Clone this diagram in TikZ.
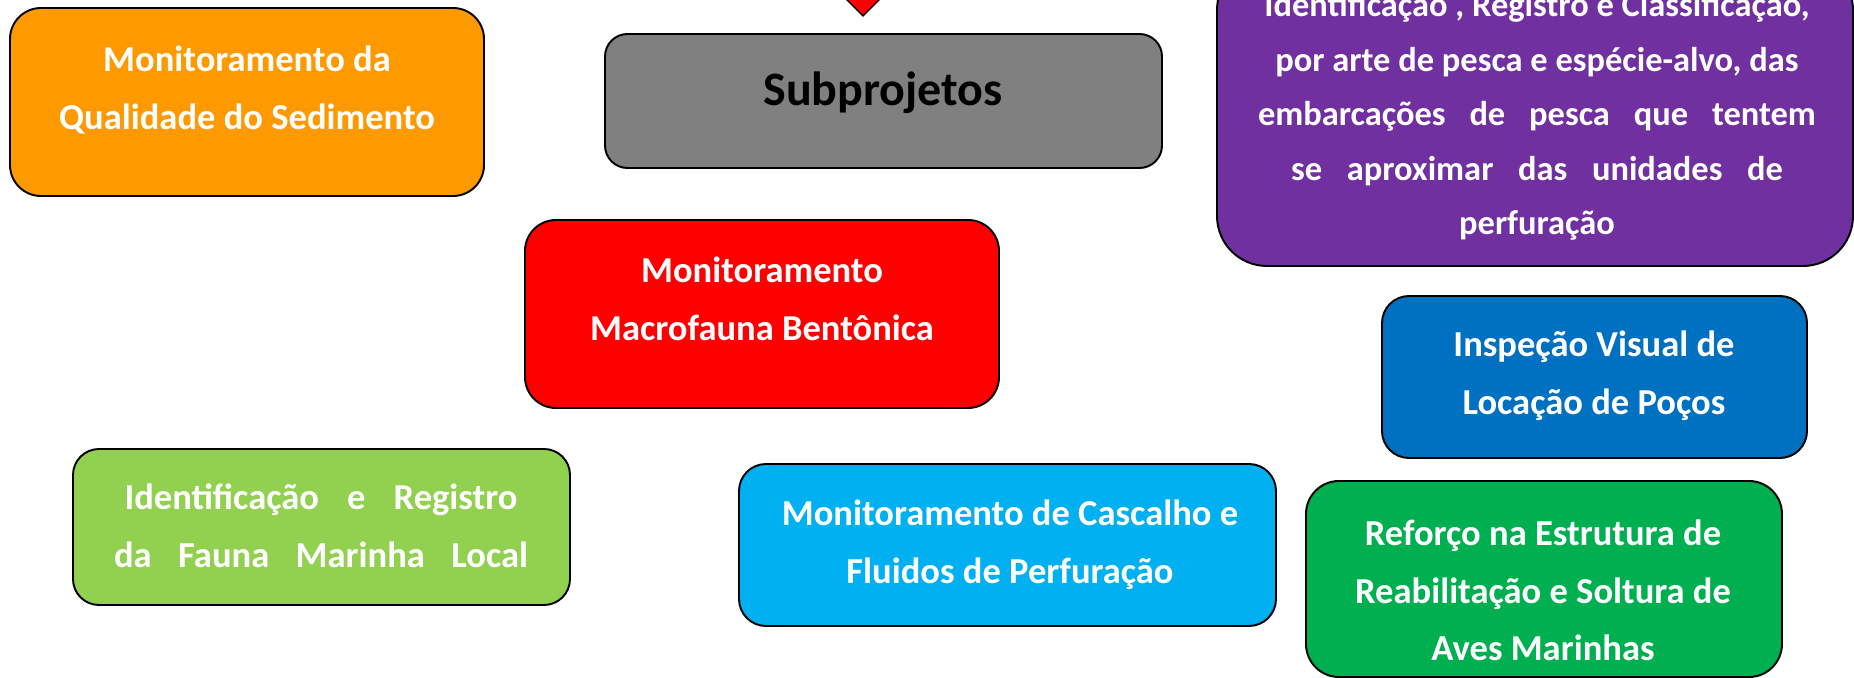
\documentclass[tikz,border=0pt]{standalone}
\usepackage{fontspec}
\setmainfont{Carlito}
\usepackage{tikz}
\usetikzlibrary{fit}
\definecolor{laranja}{HTML}{FF9900}
\definecolor{cinza}{HTML}{808080}
\definecolor{vermelho}{HTML}{FF0000}
\definecolor{roxo}{HTML}{7030A0}
\definecolor{azul}{HTML}{0070C0}
\definecolor{verdeclaro}{HTML}{92D050}
\definecolor{ciano}{HTML}{00B0F0}
\definecolor{verde}{HTML}{00B050}
\setlength{\tabcolsep}{0pt}
\newcommand{\esticar}[2]{\makebox[#1][s]{#2}}
\tikzset{
  caixa/.style={draw=black,line width=1.1pt,rounded corners=#1,inner sep=0pt},
  texto/.style={text=white,inner sep=0pt,anchor=base,
    font=\bfseries\fontsize{20.8}{32.7}\selectfont},
  textomenor/.style={texto,font=\bfseries\fontsize{19.6}{31}\selectfont}
}

\begin{document}
\begin{tikzpicture}[x=0.02cm,y=-0.02cm]
\clip(0,0)rectangle(1854,678);
% caixas
\node[caixa=0.62cm,fill=laranja,fit={(10,8)(484,196)}](sedimento){};
\node[caixa=0.45cm,fill=cinza,fit={(605,34)(1162,168)}](subprojetos){};
\node[caixa=1cm,fill=roxo,fit={(1217,-40)(1853,266)}](embarcacoes){};
\node[caixa=0.62cm,fill=vermelho,fit={(525,220)(999,408)}](macrofauna){};
\node[caixa=0.54cm,fill=azul,fit={(1382,296)(1807,458)}](inspecao){};
\node[caixa=0.52cm,fill=verdeclaro,fit={(73,449)(570,605)}](fauna){};
\node[caixa=0.54cm,fill=ciano,fit={(739,464)(1276,626)}](cascalho){};
\node[caixa=0.66cm,fill=verde,fit={(1306,481)(1782,677)}](aves){};
% ponta da seta
\coordinate(ponta)at(863,16);
\draw[fill=red,line width=0.8pt,line join=miter](836,-11)--(890,-11)--(ponta)--cycle;
% textos
\node[texto](sedimentotxt)at(247,72){\begin{tabular}[t]{c}Monitoramento da\\Qualidade do Sedimento\end{tabular}};
\node[texto,text=black,font=\bfseries\fontsize{27.3}{32}\selectfont](subprojetostxt)at(883,106){Subprojetos};
\node[textomenor](embarcacoestxt)at(1537,17){\begin{tabular}[t]{c}Identificação , Registro e Classificação,\\
por arte de pesca e espécie-alvo, das\\
\esticar{11.16cm}{embarcações de pesca que tentem}\\
\esticar{9.84cm}{se aproximar das unidades de}\\
perfuração\end{tabular}};
\node[texto](macrofaunatxt)at(762,283){\begin{tabular}[t]{c}Monitoramento\\Macrofauna Bentônica\end{tabular}};
\node[texto](inspecaotxt)at(1594,357){\begin{tabular}[t]{c}Inspeção Visual de\\Locação de Poços\end{tabular}};
\node[texto](faunatxt)at(321,510){\begin{tabular}[t]{c}\esticar{7.86cm}{Identificação e Registro}\\
\esticar{8.28cm}{da Fauna Marinha Local}\end{tabular}};
\node[texto](cascalhotxt)at(1010,526){\begin{tabular}[t]{c}Monitoramento de Cascalho e\\Fluidos de Perfuração\end{tabular}};
\node[texto](avestxt)at(1543,546){\begin{tabular}[t]{c}Reforço na Estrutura de\\Reabilitação e Soltura de\\Aves Marinhas\end{tabular}};
\end{tikzpicture}
\end{document}
